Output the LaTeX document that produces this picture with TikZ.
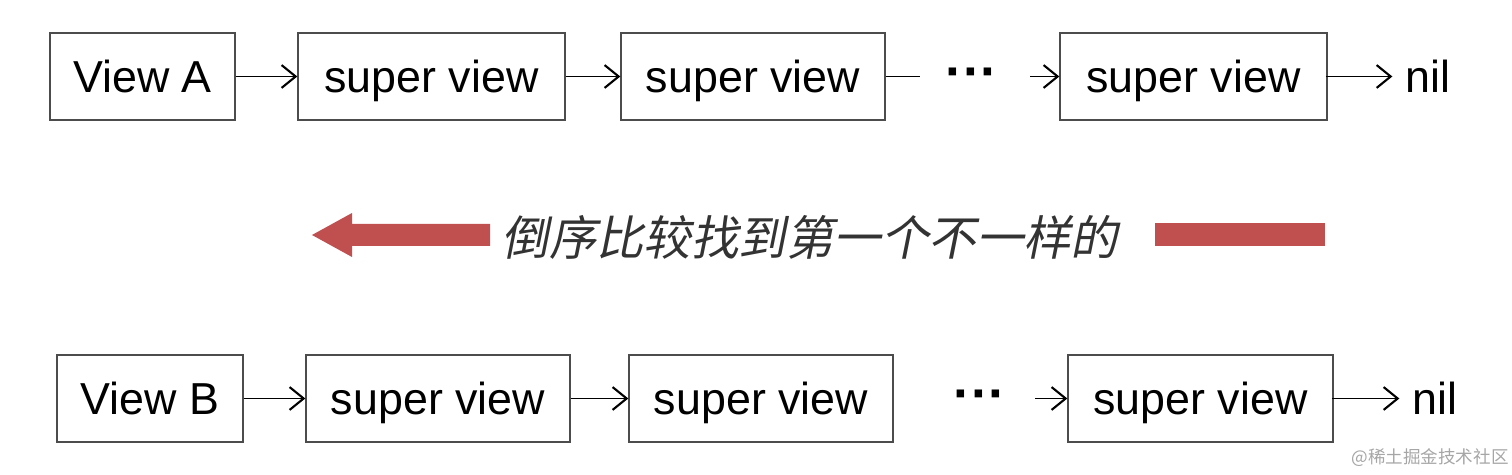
\documentclass[tikz,border=0pt]{standalone}
\usepackage{fontspec}
\setmainfont{Liberation Sans}
\newfontfamily\cjk[FakeSlant=0.2]{Noto Sans CJK SC}
\newfontfamily\cjkwm{Noto Sans CJK SC}
\usetikzlibrary{positioning,arrows.meta}
\definecolor{bandred}{RGB}{192,80,80}
\begin{document}
\begin{tikzpicture}[x=0.02cm,y=-0.02cm,
	viewbox/.style={draw=black!70, line width=0.8pt, minimum height=1.74cm, inner sep=0pt, text height=0.8cm, text depth=0.16cm, font=\fontsize{25.5}{28}\selectfont},
	link/.style={-{Straight Barb[length=8pt,width=13pt,line width=1.2pt]}, line width=1pt},
	endtxt/.style={font=\fontsize{25.5}{28}\selectfont},
	dotstxt/.style={font=\bfseries\fontsize{30}{32}\selectfont}]
	\useasboundingbox (0,0) rectangle (1512,475);

	% top chain
	\node (a0) at (142.5,76.5) [viewbox, minimum width=3.7cm] {View A};
	\node (a1) at (431.5,76.5) [viewbox, minimum width=5.34cm] {super view};
	\node (a2) at (753,76.5) [viewbox, minimum width=5.28cm] {super view};
	\node (a3) at (1193.5,76.5) [viewbox, minimum width=5.34cm] {super view};
	\node (anil) at (1428,76) [endtxt] {nil};
	\node (adots) at (972,79) [dotstxt] {···};
	\coordinate (aline) at (920,76.5);
	\coordinate (aarr) at (1030,76.5);
	\draw [link] (a0) -- (a1);
	\draw [link] (a1) -- (a2);
	\draw [line width=1pt] (a2) -- (aline);
	\draw [link] (aarr) -- (a3);
	\draw [link] ([xshift=-1pt]a3.east) -- ([xshift=-4pt]anil.west |- a3.east);

	% middle
	\fill [bandred] (490,224) -- (352,224) -- (352,213) -- (312,235) -- (352,257) -- (352,246) -- (490,246) -- cycle;
	\node (msg) at (810,237) [font=\cjk\fontsize{27}{30}\selectfont, text=black!80] {倒序比较找到第一个不一样的};
	\fill [bandred] (1155,223) rectangle (1325,246);

	% bottom chain
	\node (b0) at (150,398.5) [viewbox, minimum width=3.72cm] {View B};
	\node (b1) at (438,398.5) [viewbox, minimum width=5.28cm] {super view};
	\node (b2) at (761,398.5) [viewbox, minimum width=5.28cm] {super view};
	\node (b3) at (1200.5,398.5) [viewbox, minimum width=5.3cm] {super view};
	\node (bnil) at (1435,398) [endtxt] {nil};
	\node (bdots) at (980,401) [dotstxt] {···};
	\coordinate (barr) at (1035,398.5);
	\draw [link] (b0) -- (b1);
	\draw [link] (b1) -- (b2);
	\draw [link] (barr) -- (b3);
	\draw [link] ([xshift=-1pt]b3.east) -- ([xshift=-4pt]bnil.west |- b3.east);

	\node (wm) at (1430,458) [font=\cjkwm\fontsize{10}{12}\selectfont, text=black!35] {@稀土掘金技术社区};
\end{tikzpicture}
\end{document}
